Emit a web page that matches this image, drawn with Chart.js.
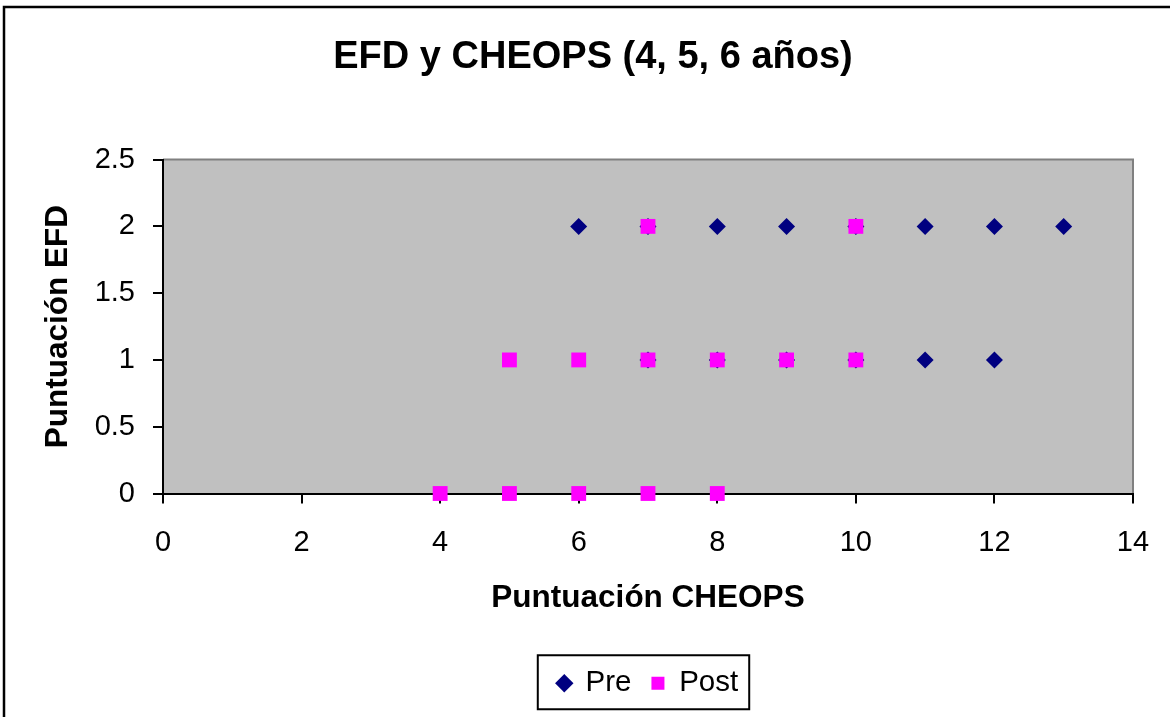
<!DOCTYPE html>
<html>
<head>
<meta charset="utf-8">
<script src="https://cdn.jsdelivr.net/npm/chart.js@4/dist/chart.umd.min.js"></script>
<style>
  html, body { margin: 0; padding: 0; background: #fff; overflow: hidden; }
  #wrap { position: absolute; left: 0; top: 0; width: 1176px; height: 722px; }
</style>
</head>
<body>
<div id="wrap"><canvas id="chart" width="1176" height="722"></canvas></div>
<script>
// Datos
const preCheops  = [6, 7, 8, 9, 10, 11, 12, 13, 7, 8, 9, 10, 11, 12];
const preEfd     = [2, 2, 2, 2, 2, 2, 2, 2, 1, 1, 1, 1, 1, 1];
const postCheops = [7, 10, 5, 6, 7, 8, 9, 10, 4, 5, 6, 7, 8];
const postEfd    = [2, 2, 1, 1, 1, 1, 1, 1, 0, 0, 0, 0, 0];

const xTicks = [0, 2, 4, 6, 8, 10, 12, 14];
const yTicks = [0, 0.5, 1, 1.5, 2, 2.5];

const FONT = "'Liberation Sans', Arial, sans-serif";

function toPoints(xs, ys) {
  return xs.map((x, i) => ({ x: x, y: ys[i] }));
}

// Fondo gris del area de trazado y marco exterior
const frame = {
  id: 'frame',
  beforeDraw(chart) {
    const { ctx, chartArea: a } = chart;
    ctx.save();
    ctx.fillStyle = '#C0C0C0';
    ctx.fillRect(a.left, a.top, a.right - a.left, a.bottom - a.top);
    ctx.strokeStyle = '#808080';
    ctx.lineWidth = 2;
    ctx.beginPath();
    ctx.moveTo(a.left, a.top);
    ctx.lineTo(a.right, a.top);
    ctx.lineTo(a.right, a.bottom);
    ctx.stroke();
    // marco del grafico
    ctx.strokeStyle = '#000';
    ctx.lineWidth = 2.5;
    ctx.strokeRect(4, 7, chart.width - 7, chart.height - 10);
    ctx.restore();
  },
  afterDraw(chart) {
    // recuadro de la leyenda
    const boxes = chart.legend.legendHitBoxes;
    if (!boxes || !boxes.length) return;
    const left = Math.min(...boxes.map(b => b.left)) - 20;
    const right = Math.max(...boxes.map(b => b.left + b.width)) + 11;
    const cy = boxes[0].top + boxes[0].height / 2;
    const ctx = chart.ctx;
    ctx.save();
    ctx.strokeStyle = '#000';
    ctx.lineWidth = 2;
    ctx.strokeRect(left, cy - 28, right - left, 54);
    ctx.restore();
  }
};

new Chart(document.getElementById('chart'), {
  type: 'scatter',
  data: {
    datasets: [
      {
        label: 'Pre',
        data: toPoints(preCheops, preEfd),
        pointStyle: 'rectRot',
        pointRadius: 8.5,
        pointHoverRadius: 8.5,
        backgroundColor: '#000080',
        borderColor: '#000080',
        borderWidth: 0,
        clip: false,
        order: 2
      },
      {
        label: 'Post',
        data: toPoints(postCheops, postEfd),
        pointStyle: 'rect',
        pointRadius: 10.5,
        pointHoverRadius: 10.5,
        backgroundColor: '#FF00FF',
        borderColor: '#FF00FF',
        borderWidth: 0,
        clip: false,
        order: 1
      }
    ]
  },
  plugins: [frame],
  options: {
    responsive: false,
    animation: false,
    devicePixelRatio: 1,
    layout: { padding: { left: 53, top: 0, right: 1176 - 1133, bottom: 14 } },
    plugins: {
      title: {
        display: true,
        text: 'EFD y CHEOPS (4, 5, 6 años)',
        color: '#000',
        font: { family: FONT, size: 38, weight: 'bold', lineHeight: 1.2 },
        padding: { top: 35, bottom: 79 }
      },
      legend: {
        position: 'bottom',
        fullSize: false,
        labels: {
          usePointStyle: true,
          boxWidth: 13,
          boxHeight: 13,
          padding: 20,
          color: '#000',
          font: { family: FONT, size: 29.5 },
          sort: (a, b) => a.datasetIndex - b.datasetIndex
        }
      },
      tooltip: { enabled: false }
    },
    scales: {
      x: {
        type: 'linear',
        min: 0,
        max: 14,
        afterBuildTicks: s => { s.ticks = xTicks.map(v => ({ value: v })); },
        afterFit: s => { s.height = 155; },
        border: { display: true, color: '#000', width: 2 },
        grid: { drawOnChartArea: false, drawTicks: true, tickLength: 10, color: '#000', lineWidth: 2 },
        ticks: { color: '#000', padding: 22, maxRotation: 0, font: { family: FONT, size: 29 }, callback: v => String(v) },
        title: {
          display: true,
          text: 'Puntuación CHEOPS',
          color: '#000',
          font: { family: FONT, size: 31.5, weight: 'bold', lineHeight: 1.2 },
          padding: { top: 0, bottom: 31 }
        }
      },
      y: {
        type: 'linear',
        min: 0,
        max: 2.5,
        afterBuildTicks: s => { s.ticks = yTicks.map(v => ({ value: v })); },
        afterFit: s => { s.width = 110; },
        border: { display: true, color: '#000', width: 2 },
        grid: { drawOnChartArea: false, drawTicks: true, tickLength: 10, color: '#000', lineWidth: 2 },
        ticks: { color: '#000', padding: 18, font: { family: FONT, size: 29 }, callback: v => String(v) },
        title: {
          display: true,
          text: 'Puntuación EFD',
          color: '#000',
          font: { family: FONT, size: 31.5, weight: 'bold', lineHeight: 1.2 },
          padding: { top: -14, bottom: 0 }
        }
      }
    }
  }
});
</script>
</body>
</html>
